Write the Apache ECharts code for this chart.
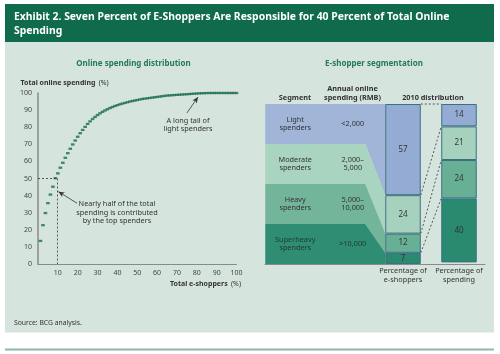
<!DOCTYPE html>
<html><head><meta charset="utf-8">
<script src="https://cdn.jsdelivr.net/npm/echarts@6/dist/echarts.min.js"></script>
<style>html,body{margin:0;padding:0;background:#fff}#c{width:500px;height:354px}</style>
</head><body><div id="c"></div>
<script>
// ---- Data ----
var shopperPct = [1.25,2.5,3.75,5,6.25,7.5,8.75,10,11.25,12.5,13.75,15,16.25,17.5,18.75,20,21.25,22.5,23.75,25,
  26.25,27.5,28.75,30,31.25,32.5,33.75,35,36.25,37.5,38.75,40,41.25,42.5,43.75,45,46.25,47.5,48.75,50,
  51.25,52.5,53.75,55,56.25,57.5,58.75,60,61.25,62.5,63.75,65,66.25,67.5,68.75,70,71.25,72.5,73.75,75,
  76.25,77.5,78.75,80,81.25,82.5,83.75,85,86.25,87.5,88.75,90,91.25,92.5,93.75,95,96.25,97.5,98.75,100];
var spendingPct = [13.5,22.7,29.8,35.6,40.6,45.2,50.2,53.0,56.3,59.2,62.1,64.8,67.4,69.9,72.2,74.4,76.5,78.4,80.2,81.9,
  83.4,84.8,86.0,87.1,88.1,89.0,89.8,90.5,91.2,91.8,92.4,92.9,93.4,93.8,94.2,94.6,95.0,95.3,95.6,95.9,
  96.2,96.5,96.7,96.9,97.1,97.3,97.5,97.7,97.9,98.1,98.3,98.5,98.6,98.7,98.8,98.9,99.0,99.1,99.2,99.3,
  99.4,99.5,99.6,99.7,99.8,99.85,99.9,99.95,100,100,100,100,100,100,100,100,100,100,100,100];
var refPoint = [9.5, 50];

var segments = ['Light\nspenders','Moderate\nspenders','Heavy\nspenders','Superheavy\nspenders'];
var spendRanges = ['<2,000','2,000–\n5,000','5,000–\n10,000','>10,000'];
var shareShoppers = [57,24,12,7];
var shareSpending = [14,21,24,40];
var barCats = ['Percentage of\ne-shoppers','Percentage of\nspending'];

// ---- Style ----
var FONT = 'Noto Sans';
var bandColors = ['#a0b5d7','#a9d4c0','#73b59b','#2f8d73'];
var barColors  = ['#94acd3','#a6d2bd','#68b095','#2a8a70'];
var BAR_W = 35.5;

function cum(arr){var out=[0];for(var i=0;i<arr.length;i++)out.push(out[i]+arr[i]);return out;}
var cumShop = cum(shareShoppers), cumSpend = cum(shareSpending);

var chart = echarts.init(document.getElementById('c'), null, {renderer:'canvas'});

var barSeries = segments.map(function(s,i){
  return {
    type:'bar', stack:'dist', xAxisIndex:2, yAxisIndex:2, barWidth:BAR_W, z:5,
    data:[shareShoppers[i], shareSpending[i]],
    itemStyle:{color:barColors[i], borderColor:'#3b6f82', borderWidth:1},
    label:{show:true, position:'inside', color:'#333', fontSize:8, fontFamily:FONT},
    silent:true
  };
});

var option = {
  animation:false,
  backgroundColor:'#ffffff',
  textStyle:{fontFamily:FONT},
  graphic:[
    {type:'rect', z:-10, shape:{x:5,y:41.5,width:489,height:291}, style:{fill:'#d6e4de'}},
    {type:'rect', z:-10, shape:{x:5,y:4,width:489,height:38}, style:{fill:'#0f6b4c'}},
    {type:'rect', z:-10, shape:{x:5,y:348.5,width:489,height:2}, style:{fill:'#8db8a6'}},
    {type:'text', left:14, top:9.5, style:{text:'Exhibit 2. Seven Percent of E-Shoppers Are Responsible for 40 Percent of Total Online\nSpending', fill:'#ffffff', font:'bold 10.4px "Noto Sans"', lineHeight:14.5}},
    {type:'text', x:133.5, y:63.5, style:{text:'Online spending distribution', fill:'#247a56', font:'bold 8px "Noto Sans"', align:'center', verticalAlign:'middle'}},
    {type:'text', x:374, y:63.5, style:{text:'E-shopper segmentation', fill:'#247a56', font:'bold 8px "Noto Sans"', align:'center', verticalAlign:'middle'}},
    {type:'text', x:20.5, y:82.5, style:{rich:{b:{font:'bold 7px "Noto Sans"', fill:'#333'}, n:{font:'7px "Noto Sans"', fill:'#333'}}, text:'{b|Total online spending} {n|(%)}', verticalAlign:'middle'}},
    {type:'text', x:241, y:284, style:{rich:{b:{font:'bold 7px "Noto Sans"', fill:'#333'}, n:{font:'7px "Noto Sans"', fill:'#333'}}, text:'{b|Total e-shoppers} {n|(%)}', align:'right', verticalAlign:'middle'}},
    {type:'text', x:188, y:124.5, style:{text:'A long tail of\nlight spenders', font:'7.3px "Noto Sans"', fill:'#333', align:'center', verticalAlign:'middle', lineHeight:8}},
    {type:'text', x:117, y:212.5, style:{text:'Nearly half of the total\nspending is contributed\nby the top spenders', font:'7.3px "Noto Sans"', fill:'#333', align:'center', verticalAlign:'middle', lineHeight:8.3}},
    {type:'text', x:295, y:97.7, style:{text:'Segment', font:'bold 7.3px "Noto Sans"', fill:'#333', align:'center', verticalAlign:'middle'}},
    {type:'text', x:352.5, y:93.5, style:{text:'Annual online\nspending (RMB)', font:'bold 7.3px "Noto Sans"', fill:'#333', align:'center', verticalAlign:'middle', lineHeight:8.5}},
    {type:'text', x:433, y:97.7, style:{text:'2010 distribution', font:'bold 7.3px "Noto Sans"', fill:'#333', align:'center', verticalAlign:'middle'}},
    {type:'text', x:14, y:323, style:{text:'Source: BCG analysis.', font:'6.8px "Noto Sans"', fill:'#333', verticalAlign:'middle'}}
  ],
  grid:[
    {left:38, top:93, width:198.5, height:171},
    {left:265, top:104, width:220, height:160},
    {left:375, top:104, width:112, height:160}
  ],
  xAxis:[
    {gridIndex:0, type:'value', min:0, max:100, interval:10,
     axisLine:{show:true, lineStyle:{color:'#8a8a8a', width:1.2}}, axisTick:{show:false}, splitLine:{show:false},
     axisLabel:{showMinLabel:false, color:'#444', fontSize:7, margin:5, fontFamily:FONT}},
    {gridIndex:1, type:'value', min:0, max:1, show:true,
     axisLine:{show:true, onZero:false, lineStyle:{color:'#8a8a8a', width:1}}, axisTick:{show:false}, axisLabel:{show:false}, splitLine:{show:false}},
    {gridIndex:2, type:'category', data:barCats,
     axisLine:{show:false}, axisTick:{show:false},
     axisLabel:{interval:0, hideOverlap:false, color:'#333', fontSize:7.3, lineHeight:8.3, margin:3, fontFamily:FONT}}
  ],
  yAxis:[
    {gridIndex:0, type:'value', min:0, max:100, interval:10,
     axisLine:{show:true, lineStyle:{color:'#8a8a8a', width:1.5}}, axisTick:{show:false}, splitLine:{show:false},
     axisLabel:{color:'#444', fontSize:7, margin:6, fontFamily:FONT}},
    {gridIndex:1, type:'value', min:0, max:1, show:false},
    {gridIndex:2, type:'value', min:0, max:100, inverse:true, show:false}
  ],
  series:[
    {
      type:'scatter', xAxisIndex:0, yAxisIndex:0, symbol:'rect', symbolSize:[3.6,2.3],
      itemStyle:{color:'#196c52'}, silent:true, z:4,
      data: shopperPct.map(function(x,i){return [x, spendingPct[i]];}),
      markLine:{
        silent:true, symbol:['none','none'], label:{show:false},
        lineStyle:{color:'#444', type:[2,2], width:0.9},
        data:[
          [{coord:[0, refPoint[1]]},{coord:[refPoint[0], refPoint[1]]}],
          [{coord:[refPoint[0], refPoint[1]]},{coord:[refPoint[0], 0]}]
        ]
      }
    },
    {
      type:'line', xAxisIndex:0, yAxisIndex:0, data:[], silent:true,
      markLine:{
        silent:true, symbol:['none','arrow'], symbolSize:[4,6], label:{show:false},
        lineStyle:{color:'#333', type:'solid', width:0.8},
        data:[
          [{coord:[75,88.3]},{coord:[80.6,97.6]}],
          [{coord:[19.7,35.5]},{coord:[10.3,42.3]}]
        ]
      }
    },
    {
      type:'custom', xAxisIndex:2, yAxisIndex:2, z:1, silent:true, clip:false,
      data: segments.map(function(s,i){return [i];}),
      renderItem:function(params, api){
        var i = api.value(0);
        var xb = api.coord([0, 0])[0] - BAR_W/2;
        var L = xb - 120, S = xb - 20;
        var rows = segments.length;
        var rowTop = api.coord([0, 100*i/rows])[1], rowBot = api.coord([0, 100*(i+1)/rows])[1];
        var rTop = api.coord([0, cumShop[i]])[1], rBot = api.coord([0, cumShop[i+1]])[1];
        var pts = [[L,rowTop]];
        if (i===0) pts.push([xb,rTop]); else {pts.push([S,rowTop]); pts.push([xb,rTop]);}
        if (i===rows-1) pts.push([xb,rBot]); else {pts.push([xb,rBot]); pts.push([S,rowBot]);}
        pts.push([L,rowBot]);
        var cy = (rowTop+rowBot)/2;
        return {type:'group', children:[
          {type:'polygon', shape:{points:pts}, style:{fill:bandColors[i]}},
          {type:'text', x:L+30, y:cy, style:{text:segments[i], fill:i===3?'#1d3b32':'#333', font:'7.3px "Noto Sans"', align:'center', verticalAlign:'middle', lineHeight:8.3}},
          {type:'text', x:L+87.5, y:cy, style:{text:spendRanges[i], fill:i===3?'#1d3b32':'#333', font:'7.3px "Noto Sans"', align:'center', verticalAlign:'middle', lineHeight:8.3}}
        ]};
      }
    },
    {
      type:'custom', xAxisIndex:2, yAxisIndex:2, z:6, silent:true, clip:false,
      data: [0,1,2,3].map(function(k){return [cumShop[k], cumSpend[k]];}),
      renderItem:function(params, api){
        var p1 = api.coord([0, api.value(0)]);
        var p2 = api.coord([1, api.value(1)]);
        return {type:'line', shape:{x1:p1[0]+BAR_W/2, y1:p1[1], x2:p2[0]-BAR_W/2, y2:p2[1]},
          style:{stroke:'#333', lineWidth:0.8, lineDash:[2,2]}};
      }
    }
  ].concat(barSeries)
};
chart.setOption(option);
</script></body></html>
